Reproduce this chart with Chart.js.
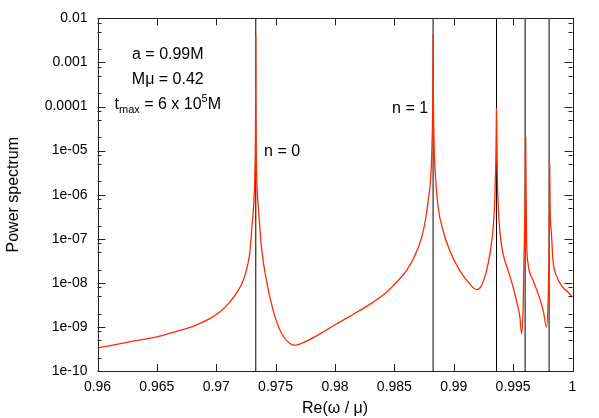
<!DOCTYPE html>
<html>
<head>
<meta charset="utf-8">
<script src="https://cdn.jsdelivr.net/npm/chart.js@4.4.1/dist/chart.umd.min.js"></script>
<style>
    html, body { margin: 0; padding: 0; background: #ffffff; }
    #wrap { width: 599px; height: 418px; position: relative; }
</style>
</head>
<body>
<div id="wrap"><canvas id="grafico"></canvas></div>
<script>
// Re(omega / mu) samples and power spectrum
const freq = [
    0.9600, 0.9625, 0.96525, 0.96666, 0.96805, 0.96946, 0.97030, 0.97114, 0.97184, 0.97226,
    0.97260, 0.97283, 0.97302, 0.97319, 0.97326, 0.97330, 0.97332, 0.97333, 0.97334, 0.97336,
    0.97340, 0.97348, 0.97359, 0.97381, 0.97423, 0.97479, 0.97550, 0.97620, 0.97662, 0.97746,
    0.97830, 0.97914, 0.9800, 0.9810, 0.98209, 0.98321, 0.98434, 0.98518, 0.98602, 0.98672,
    0.98729, 0.98765, 0.98784, 0.98805, 0.98816, 0.98823, 0.98825, 0.98826, 0.98827, 0.98829,
    0.98836, 0.98849, 0.98869, 0.98911, 0.98967, 0.99051, 0.99135, 0.99192, 0.99234, 0.99276,
    0.99304, 0.99332, 0.99346, 0.99354, 0.99357, 0.99359, 0.99360, 0.99361, 0.99364, 0.99367,
    0.99374, 0.99388, 0.99416, 0.99458, 0.99500, 0.99534, 0.99557, 0.99571, 0.99584, 0.99593,
    0.99600, 0.99604, 0.99606, 0.99608, 0.99613, 0.99626, 0.99669, 0.99711, 0.99753, 0.99782,
    0.99795, 0.99803, 0.99806, 0.99808, 0.99811, 0.99823, 0.99836, 0.99865, 0.99907, 0.99963,
    1.0000
];

const power = [
    3.35e-10, 4.47e-10, 6.15e-10, 7.96e-10, 1.03e-9, 1.54e-9, 2.17e-9, 3.65e-9, 6.68e-9, 1.12e-8,
    2.24e-8, 5.01e-8, 2.13e-7, 8.47e-7, 3.55e-6, 1.9e-5, 1.66e-4, 4.07e-3, 1.58e-4, 1.78e-5,
    3.16e-6, 8.9e-7, 3.58e-7, 6.32e-8, 1.12e-8, 2.37e-9, 7.08e-10, 4.21e-10, 3.85e-10, 4.57e-10,
    5.93e-10, 8.09e-10, 1.12e-9, 1.58e-9, 2.37e-9, 3.65e-9, 6.12e-9, 1.03e-8, 1.89e-8, 4.11e-8,
    1.06e-7, 3.0e-7, 7.14e-7, 2.24e-6, 1.07e-5, 1.17e-4, 8.5e-4, 4.37e-3, 7.9e-4, 1.12e-4,
    1e-5, 2.01e-6, 5.05e-7, 1.5e-7, 5.33e-8, 1.89e-8, 9.46e-9, 7.05e-9, 8.67e-9, 1.89e-8,
    4.47e-8, 1.78e-7, 7.94e-7, 5.37e-6, 1.82e-5, 6.46e-5, 9.33e-5, 5.62e-5, 1.41e-5, 2.51e-6,
    6.03e-7, 1.51e-7, 4.47e-8, 1.91e-8, 7.94e-9, 3.39e-9, 1.66e-9, 7.08e-10, 2.51e-9, 5.33e-8,
    6.3e-7, 5e-6, 2e-5, 3.16e-6, 1.07e-7, 2.69e-8, 1.12e-8, 5.62e-9, 2.37e-9, 9.95e-10,
    3.98e-9, 5.33e-8, 5e-7, 4.79e-6, 6.3e-7, 1.27e-7, 3.17e-8, 1.46e-8, 8.67e-9, 6.12e-9,
    4.72e-9
];

// vertical markers at the mode frequencies
const modeLines = [0.97333, 0.98826, 0.99360, 0.99601, 0.99803];

const xTicks = [0.96, 0.965, 0.97, 0.975, 0.98, 0.985, 0.99, 0.995, 1];
const xTickLabels = ["0.96", "0.965", "0.97", "0.975", "0.98", "0.985", "0.99", "0.995", "1"];

const yTicks = [1e-10, 1e-9, 1e-8, 1e-7, 1e-6, 1e-5, 1e-4, 1e-3, 1e-2];
const yTickLabels = ["1e-10", "1e-09", "1e-08", "1e-07", "1e-06", "1e-05", "0.0001", "0.001", "0.01"];

const FONT = "'Liberation Sans', Arial, Helvetica, sans-serif";

const spectrumPoints = freq.map(function (f, i) {
    return { x: f, y: power[i] };
});

const lineSets = modeLines.map(function (f) {
    return {
        data: [{ x: f, y: yTicks[0] }, { x: f, y: yTicks[yTicks.length - 1] }],
        borderColor: "#000000",
        borderWidth: 1,
        pointRadius: 0,
        order: 2
    };
});

// white background
const whiteBg = {
    id: "whiteBg",
    beforeDraw(chart) {
        const ctx = chart.ctx;
        ctx.save();
        ctx.fillStyle = "#ffffff";
        ctx.fillRect(0, 0, chart.width, chart.height);
        ctx.restore();
    }
};

// gnuplot-like frame with inward ticks on all four sides
const frameTicks = {
    id: "frameTicks",
    afterDatasetsDraw(chart) {
        const ctx = chart.ctx;
        const a = chart.chartArea;
        const xs = chart.scales.x;
        const ys = chart.scales.y;
        ctx.save();
        ctx.strokeStyle = "#222222";
        ctx.lineWidth = 1;
        ctx.beginPath();
        xTicks.forEach(function (v) {
            const px = Math.round(xs.getPixelForValue(v)) + 0.5;
            ctx.moveTo(px, a.bottom);
            ctx.lineTo(px, a.bottom - 7);
            ctx.moveTo(px, a.top);
            ctx.lineTo(px, a.top + 7);
        });
        yTicks.forEach(function (v) {
            const py = Math.round(ys.getPixelForValue(v)) + 0.5;
            ctx.moveTo(a.left, py);
            ctx.lineTo(a.left + 8, py);
            ctx.moveTo(a.right, py);
            ctx.lineTo(a.right - 8, py);
        });
        yTicks.slice(0, -1).forEach(function (t) {
            [2, 5, 8].forEach(function (m) {
                const py = Math.round(ys.getPixelForValue(m * t)) + 0.5;
                ctx.moveTo(a.left, py);
                ctx.lineTo(a.left + 4, py);
                ctx.moveTo(a.right, py);
                ctx.lineTo(a.right - 4, py);
            });
        });
        ctx.stroke();
        ctx.strokeRect(Math.round(a.left) + 0.5, Math.round(a.top) + 0.5,
            Math.round(a.right - a.left), Math.round(a.bottom - a.top));
        ctx.restore();
    }
};

function drawRich(ctx, parts, cx, baseline) {
    const big = "16px " + FONT;
    const small = "11px " + FONT;
    let total = 0;
    parts.forEach(function (p) {
        ctx.font = p.sub || p.sup ? small : big;
        total += ctx.measureText(p.t).width;
    });
    let x = cx - total / 2;
    parts.forEach(function (p) {
        ctx.font = p.sub || p.sup ? small : big;
        let dy = 0;
        if (p.sub) dy = 4;
        if (p.sup) dy = -7;
        ctx.fillText(p.t, x, baseline + dy);
        x += ctx.measureText(p.t).width;
    });
}

// text labels placed in data coordinates
const labels = {
    id: "labels",
    afterDraw(chart) {
        const ctx = chart.ctx;
        const xs = chart.scales.x;
        const ys = chart.scales.y;
        ctx.save();
        ctx.fillStyle = "#000000";
        ctx.textBaseline = "alphabetic";
        ctx.textAlign = "left";
        const cx = xs.getPixelForValue(0.96592);
        drawRich(ctx, [{ t: "a = 0.99M" }], cx, ys.getPixelForValue(1.19e-3));
        drawRich(ctx, [{ t: "M\u03bc = 0.42" }], cx, ys.getPixelForValue(3.26e-4));
        drawRich(ctx, [
            { t: "t" }, { t: "max", sub: true }, { t: " = 6 x 10" },
            { t: "5", sup: true }, { t: "M" }
        ], cx, ys.getPixelForValue(8.9e-5));

        ctx.font = "16px " + FONT;
        ctx.textAlign = "left";
        ctx.fillText("n = 0", xs.getPixelForValue(0.97403), ys.getPixelForValue(7.4e-6));
        ctx.textAlign = "right";
        ctx.fillText("n = 1", xs.getPixelForValue(0.98784), ys.getPixelForValue(7.2e-5));
        ctx.restore();
    }
};

new Chart(document.getElementById("grafico"), {
    type: "line",
    data: {
        datasets: [{
            data: spectrumPoints,
            borderColor: "#ff2a00",
            borderWidth: 1.3,
            pointRadius: 0,
            cubicInterpolationMode: "monotone",
            borderJoinStyle: "round",
            order: 1
        }].concat(lineSets)
    },
    options: {
        responsive: true,
        maintainAspectRatio: false,
        animation: false,
        events: [],
        layout: {
            padding: { top: 16, right: 26.5, bottom: 0, left: 0 }
        },
        plugins: {
            legend: { display: false },
            tooltip: { enabled: false }
        },
        scales: {
            x: {
                type: "linear",
                min: 0.96,
                max: 1,
                afterBuildTicks: function (scale) {
                    scale.ticks = xTicks.map(function (v) { return { value: v }; });
                },
                afterFit: function (scale) {
                    scale.height = 47;
                },
                grid: { display: false, drawTicks: false },
                border: { display: false },
                ticks: {
                    autoSkip: false,
                    maxRotation: 0,
                    padding: 8,
                    color: "#000000",
                    font: { family: FONT, size: 14 },
                    callback: function (value, index) {
                        return xTickLabels[index];
                    }
                },
                title: {
                    display: true,
                    text: "Re(\u03c9 / \u03bc)",
                    color: "#000000",
                    padding: { top: 0, bottom: 0 },
                    font: { family: FONT, size: 16 }
                }
            },
            y: {
                type: "logarithmic",
                min: 1e-10,
                max: 1e-2,
                afterBuildTicks: function (scale) {
                    scale.ticks = yTicks.map(function (v) { return { value: v }; });
                },
                afterFit: function (scale) {
                    scale.width = 97.5;
                },
                grid: { display: false, drawTicks: false },
                border: { display: false },
                ticks: {
                    autoSkip: false,
                    padding: 10,
                    color: "#000000",
                    font: { family: FONT, size: 14 },
                    callback: function (value, index) {
                        return yTickLabels[index];
                    }
                },
                title: {
                    display: true,
                    text: "Power spectrum",
                    color: "#000000",
                    font: { family: FONT, size: 16 }
                }
            }
        }
    },
    plugins: [whiteBg, frameTicks, labels]
});
</script>
</body>
</html>
